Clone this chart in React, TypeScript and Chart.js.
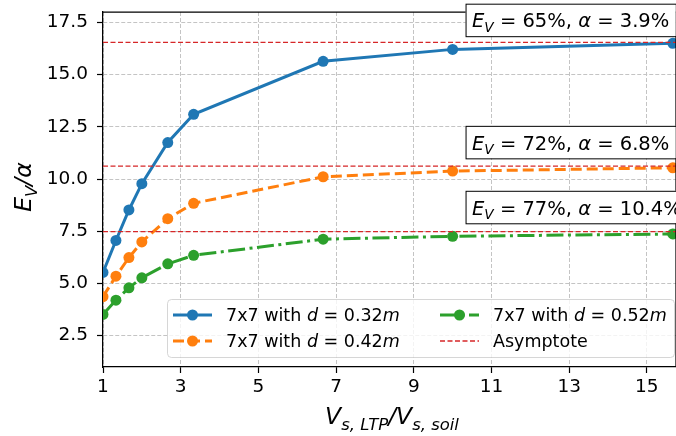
import React, { useEffect, useRef } from "react";
import { Chart, registerables } from "chart.js";

Chart.register(...registerables);

const X_RATIO = [1, 1.333, 1.667, 2, 2.667, 3.333, 6.667, 10, 15.667];
const E_D032 = [5.53, 7.06, 8.52, 9.78, 11.75, 13.1, 15.64, 16.21, 16.5];
const E_D042 = [4.37, 5.35, 6.24, 6.99, 8.1, 8.84, 10.11, 10.38, 10.54];
const E_D052 = [3.52, 4.2, 4.79, 5.27, 5.94, 6.35, 7.12, 7.26, 7.37];
const ASYMPTOTES = [16.55, 10.62, 7.48];
const X_TICKS = [1, 3, 5, 7, 9, 11, 13, 15];
const Y_TICKS = [2.5, 5, 7.5, 10, 12.5, 15, 17.5];
const ANNOT_EV = ["65%", "72%", "77%"];
const ANNOT_ALPHA = ["3.9%", "6.8%", "10.4%"];
const ANNOT_Y = [17.62, 11.77, 8.66];
const ANNOT_X = 10.5;
const LEGEND_D = ["0.32", "0.42", "0.52"];

const FONT = "'DejaVu Sans', sans-serif";
const BLUE = "#1f77b4";
const ORANGE = "#ff7f0e";
const GREEN = "#2ca02c";
const RED = "#d62728";
const DASH_ORANGE = [11, 5];
const DASH_GREEN = [17, 4.5, 3, 4.5];
const DASH_RED = [5, 2.5];

type Run = { t: string; it?: boolean; sub?: boolean };

function runFont(r: Run, size: number) {
  const s = r.sub ? size * 0.7 : size;
  return `${r.it ? "italic " : ""}${s}px ${FONT}`;
}

function runsWidth(ctx: CanvasRenderingContext2D, runs: Run[], size: number) {
  let w = 0;
  for (const r of runs) {
    ctx.font = runFont(r, size);
    w += ctx.measureText(r.t).width;
  }
  return w;
}

function drawRuns(ctx: CanvasRenderingContext2D, runs: Run[], x: number, y: number, size: number) {
  let cx = x;
  ctx.textAlign = "left";
  ctx.textBaseline = "alphabetic";
  for (const r of runs) {
    ctx.font = runFont(r, size);
    ctx.fillText(r.t, cx, y + (r.sub ? size * 0.24 : 0));
    cx += ctx.measureText(r.t).width;
  }
  return cx;
}

const overlay = {
  id: "overlay",
  afterDraw(chart: any) {
    const ctx: CanvasRenderingContext2D = chart.ctx;
    const ca = chart.chartArea;
    const xs = chart.scales.x;
    const ys = chart.scales.y;
    ctx.save();
    // top & right spines
    ctx.strokeStyle = "#000";
    ctx.lineWidth = 1.25;
    ctx.beginPath();
    ctx.moveTo(ca.left, ca.top);
    ctx.lineTo(ca.right, ca.top);
    ctx.lineTo(ca.right, ca.bottom);
    ctx.stroke();

    // annotations
    const aSize = 19.5;
    for (let i = 0; i < ANNOT_EV.length; i++) {
      const runs: Run[] = [
        { t: "E", it: true },
        { t: "V", it: true, sub: true },
        { t: " = " + ANNOT_EV[i] + ", " },
        { t: "α", it: true },
        { t: " = " + ANNOT_ALPHA[i] },
      ];
      const tx = xs.getPixelForValue(ANNOT_X);
      const cy = ys.getPixelForValue(ANNOT_Y[i]);
      const w = runsWidth(ctx, runs, aSize);
      const bx = tx - 6.5;
      const bh = 32.5;
      const by = cy - bh / 2;
      ctx.fillStyle = "#fff";
      ctx.fillRect(bx, by, w + 13, bh);
      ctx.strokeStyle = "#000";
      ctx.lineWidth = 1;
      ctx.strokeRect(bx + 0.5, by + 0.5, w + 13, bh);
      ctx.fillStyle = "#000";
      drawRuns(ctx, runs, tx, cy + 7.5, aSize);
    }

    // legend
    const lx = 167.5, ly = 299.5, lw = 507, lh = 58;
    ctx.beginPath();
    ctx.roundRect(lx, ly, lw, lh, 4);
    ctx.fillStyle = "rgba(255,255,255,0.8)";
    ctx.fill();
    ctx.strokeStyle = "rgba(204,204,204,0.8)";
    ctx.lineWidth = 1;
    ctx.stroke();
    const lSize = 17.5;
    const entries = [
      { c: BLUE, dash: [] as number[], marker: true, col: 0, row: 0, runs: [{ t: "7x7 with " }, { t: "d", it: true }, { t: " = " + LEGEND_D[0] }, { t: "m", it: true }] as Run[] },
      { c: ORANGE, dash: DASH_ORANGE, marker: true, col: 0, row: 1, runs: [{ t: "7x7 with " }, { t: "d", it: true }, { t: " = " + LEGEND_D[1] }, { t: "m", it: true }] as Run[] },
      { c: GREEN, dash: DASH_GREEN, marker: true, col: 1, row: 0, runs: [{ t: "7x7 with " }, { t: "d", it: true }, { t: " = " + LEGEND_D[2] }, { t: "m", it: true }] as Run[] },
      { c: RED, dash: DASH_RED, marker: false, col: 1, row: 1, runs: [{ t: "Asymptote" }] as Run[] },
    ];
    const colX = [173, 440];
    const rowY = [315, 341];
    for (const e of entries) {
      const x0 = colX[e.col];
      const y0 = rowY[e.row];
      ctx.strokeStyle = e.c;
      ctx.lineWidth = e.marker ? 3 : 1.3;
      ctx.setLineDash(e.dash);
      ctx.beginPath();
      ctx.moveTo(x0, y0);
      ctx.lineTo(x0 + 39, y0);
      ctx.stroke();
      ctx.setLineDash([]);
      if (e.marker) {
        ctx.fillStyle = e.c;
        ctx.beginPath();
        ctx.arc(x0 + 19.5, y0, 5.5, 0, Math.PI * 2);
        ctx.fill();
      }
      ctx.fillStyle = "#000";
      drawRuns(ctx, e.runs, x0 + 53, y0 + 6, lSize);
    }

    // x axis title
    const tSize = 23.5;
    const xt: Run[] = [
      { t: "V", it: true },
      { t: "s, LTP", it: true, sub: true },
      { t: "/V", it: true },
      { t: "s, soil", it: true, sub: true },
    ];
    const xw = runsWidth(ctx, xt, tSize);
    ctx.fillStyle = "#000";
    drawRuns(ctx, xt, 392 - xw / 2, 424, tSize);

    // y axis title
    const yt: Run[] = [
      { t: "E", it: true },
      { t: "V", it: true, sub: true },
      { t: "/α", it: true },
    ];
    const yw = runsWidth(ctx, yt, tSize);
    ctx.translate(31, 187);
    ctx.rotate(-Math.PI / 2);
    drawRuns(ctx, yt, -yw / 2, 0, tSize);
    ctx.restore();
  },
};

export default function App() {
  const ref = useRef<HTMLCanvasElement | null>(null);
  useEffect(() => {
    if (!ref.current) return;
    const pts = (ys: number[]) => X_RATIO.map((x, i) => ({ x, y: ys[i] }));
    const asym = (v: number) => [
      { x: 1, y: v },
      { x: 15.75, y: v },
    ];
    const lineDs = (data: any, color: string, dash: number[], order: number) => ({
      data,
      borderColor: color,
      backgroundColor: color,
      borderWidth: 3,
      borderDash: dash,
      pointRadius: 5.5,
      pointBorderWidth: 0,
      pointBackgroundColor: color,
      showLine: true,
      tension: 0,
      order,
    });
    const noPad = (s: any) => {
      s.paddingLeft = 0;
      s.paddingRight = 0;
      s.paddingTop = 0;
      s.paddingBottom = 0;
    };
    const chart = new Chart(ref.current, {
      type: "scatter",
      data: {
        datasets: [
          lineDs(pts(E_D032), BLUE, [], 4),
          lineDs(pts(E_D042), ORANGE, DASH_ORANGE, 3),
          lineDs(pts(E_D052), GREEN, DASH_GREEN, 2),
          ...ASYMPTOTES.map((v) => ({
            data: asym(v),
            borderColor: RED,
            borderWidth: 1.3,
            borderDash: DASH_RED,
            pointRadius: 0,
            showLine: true,
            order: 1,
          })),
        ],
      },
      options: {
        responsive: false,
        animation: false,
        events: [],
        layout: { autoPadding: false, padding: { top: 12, left: 0, right: 0, bottom: 0 } },
        plugins: { legend: { display: false }, tooltip: { enabled: false }, title: { display: false } },
        scales: {
          x: {
            type: "linear",
            min: 1,
            max: 15.75,
            afterBuildTicks: (s: any) => {
              s.ticks = X_TICKS.map((v) => ({ value: v }));
            },
            afterFit: (s: any) => {
              s.height = 69;
              noPad(s);
            },
            ticks: {
              color: "#000",
              font: { family: FONT, size: 18.5 },
              padding: 3,
              maxRotation: 0,
              autoSkip: false,
              callback: (v: any) => String(v),
            },
            grid: { color: "#c4c4c4", lineWidth: 1, tickColor: "#000", tickLength: 6, tickWidth: 1.2 },
            border: { color: "#000", width: 1.25, dash: [4, 2] },
          },
          y: {
            type: "linear",
            min: 1,
            max: 18,
            afterBuildTicks: (s: any) => {
              s.ticks = Y_TICKS.map((v) => ({ value: v }));
            },
            afterFit: (s: any) => {
              s.width = 103;
              noPad(s);
            },
            ticks: {
              color: "#000",
              font: { family: FONT, size: 18.5 },
              padding: 9,
              autoSkip: false,
              callback: (v: any) => Number(v).toFixed(1),
            },
            grid: { color: "#c4c4c4", lineWidth: 1, tickColor: "#000", tickLength: 6, tickWidth: 1.2 },
            border: { color: "#000", width: 1.25, dash: [4, 2] },
          },
        },
      },
      plugins: [overlay],
    });
    return () => chart.destroy();
  }, []);
  return (
    <div style={{ position: "absolute", left: 0, top: 0, width: 676, height: 436, background: "#fff" }}>
      <canvas ref={ref} width={676} height={436} style={{ display: "block" }} />
    </div>
  );
}
